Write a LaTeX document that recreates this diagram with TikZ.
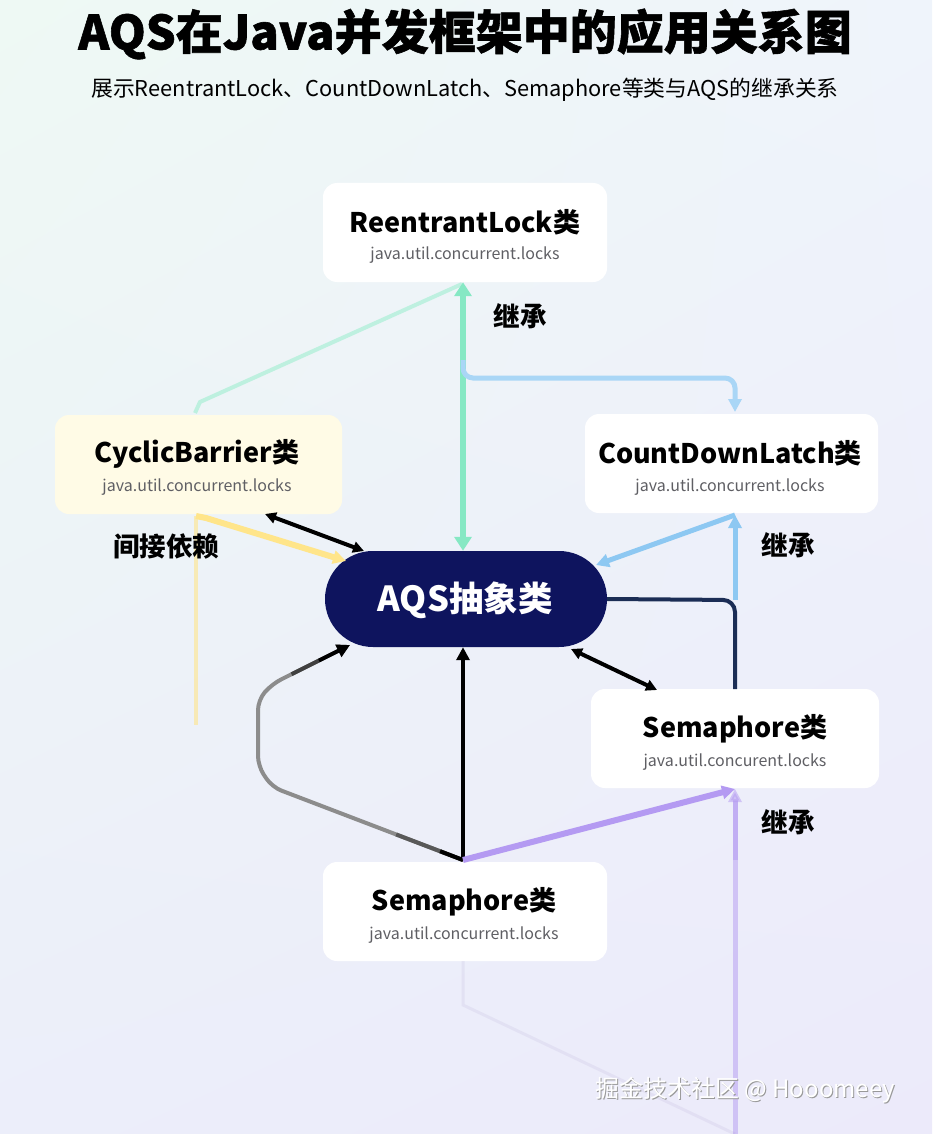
\documentclass[tikz,border=0pt]{standalone}
\usepackage{fontspec}
\setmainfont{Noto Sans CJK SC}
\newfontfamily\heavy{Noto Sans CJK SC}[BoldFeatures={FakeBold=1.2}]
\usetikzlibrary{arrows.meta,calc,shadings}
\definecolor{navy}{RGB}{14,20,94}
\definecolor{gline}{RGB}{134,232,196}
\definecolor{lblue}{RGB}{169,214,246}
\definecolor{bline}{RGB}{141,200,242}
\definecolor{yline}{RGB}{255,229,138}
\definecolor{pline}{RGB}{180,154,242}
\definecolor{cbfill}{RGB}{255,251,230}
\definecolor{subgray}{RGB}{95,95,100}
\definecolor{dline}{RGB}{27,45,85}
\definecolor{bgUL}{RGB}{238,249,244}
\definecolor{bgUR}{RGB}{239,244,251}
\definecolor{bgLL}{RGB}{236,238,250}
\definecolor{bgLR}{RGB}{236,234,250}
\begin{document}
\begin{tikzpicture}[x=1pt,y=-1pt,
  box/.style={draw=none,fill=white,rounded corners=14pt,minimum width=284pt,minimum height=99pt,inner sep=0pt},
  ttl/.style={font=\bfseries\fontsize{27}{30}\selectfont,text=black,inner sep=0pt},
  sub/.style={font=\fontsize{16}{19}\selectfont,text=subgray,inner sep=0pt},
  lbl/.style={font=\bfseries\fontsize{26.5}{30}\selectfont,text=black,inner sep=0pt},
  bigtip/.tip={Triangle[length=13pt,width=13pt]},
  smalltip/.tip={Triangle[length=11pt,width=11pt]},
  greentip/.tip={Triangle[length=14pt,width=17pt]}]
\shade[upper left=bgUL,upper right=bgUR,lower left=bgLL,lower right=bgLR] (0,0) rectangle (932,1134);
\useasboundingbox (0,0) rectangle (932,1134);
% title
\node[font=\heavy\bfseries\fontsize{47}{52}\selectfont,inner sep=0pt] (title) at (465,34) {AQS在Java并发框架中的应用关系图};
\node[font=\fontsize{21.8}{24}\selectfont,inner sep=0pt] (subtitle) at (465,90) {展示ReentrantLock、CountDownLatch、Semaphore等类与AQS的继承关系};
% boxes
\node[box] (rl) at (465,232.5) {};
\node[ttl] (rlT) at (465,222) {ReentrantLock类};
\node[sub] (rlS) at (465,255) {java.util.concurrent.locks};
\node[box,fill=cbfill,minimum width=287pt] (cb) at (198.5,464.5) {};
\node[ttl] (cbT) at (197,454) {CyclicBarrier类};
\node[sub] (cbS) at (197,487) {java.util.concurrent.locks};
\node[box,minimum width=293pt] (cdl) at (731.5,463.5) {};
\node[ttl] (cdlT) at (730,453) {CountDownLatch类};
\node[sub] (cdlS) at (730,487) {java.util.concurrent.locks};
\node[box,minimum width=288pt] (semR) at (735,738.5) {};
\node[ttl] (semRT) at (735,729) {Semaphore类};
\node[sub] (semRS) at (735,762) {java.util.concurent.locks};
\node[box] (semB) at (465,911.5) {};
\node[ttl] (semBT) at (464,902) {Semaphore类};
\node[sub] (semBS) at (464,935) {java.util.concurrent.locks};
\node[fill=navy,rounded corners=48pt,minimum width=282pt,minimum height=96pt,inner sep=0pt] (aqs) at (466,599) {};
\node[font=\bfseries\fontsize{34.5}{38}\selectfont,text=white,inner sep=0pt] (aqsT) at (465,600) {AQS抽象类};
% coordinates
\coordinate (g1) at (463,360);
\coordinate (cdlIn) at (735,412);
\coordinate (cdlOut) at (735,515);
\coordinate (aqsNE) at (596,565);
\coordinate (j735) at (735,600);
\coordinate (semRtop) at (735,689);
\coordinate (aqsSE) at (571,649);
\coordinate (semRnw) at (657,690);
\coordinate (cbOut) at (265,514);
\coordinate (aqsNW) at (364,551);
\coordinate (cbY) at (196,516);
\coordinate (aqsW) at (346,561);
\coordinate (yEnd) at (196,725);
\coordinate (semBtop) at (463,860);
\coordinate (aqsSW) at (350,645);
\coordinate (semRbot) at (735,789);
\coordinate (pBot) at (735,1134);
\coordinate (cbTop) at (195,413);
\coordinate (rlBot) at (462,284);
\coordinate (gk) at (272,684);
% connectors
\draw[gline!70,opacity=0.7,line width=4pt] (cbTop) -- (200,402) -- (rlBot);
\draw[gline,line width=6pt,{greentip}-{greentip}] ([xshift=-2pt]rl.south) -- ([xshift=-3pt]aqs.north);
\draw[lblue,line width=5pt,rounded corners=10pt,-{bigtip}] (g1) -- (463,378) -- (735,378) -- (cdlIn);
\draw[bline,line width=5pt,-{bigtip}] (cdlOut) -- (aqsNE);
\draw[dline,line width=4pt,rounded corners=12pt] (aqs.east) -- (j735) -- (semRtop);
\draw[bline,line width=5pt,-{bigtip}] (j735) -- (cdlOut);
\draw[black,line width=4pt,{smalltip}-{smalltip}] (semRnw) -- (aqsSE);
\draw[yline,opacity=0.6,line width=4pt] (cbY) -- (yEnd);
\draw[yline,line width=6pt,-{bigtip}] (cbY) -- (206,518) -- (aqsW);
\draw[black,line width=4pt,{smalltip}-{smalltip}] (cbOut) -- (aqsNW);
\draw[black!45,line width=4pt,rounded corners=10pt,-{bigtip}] (semBtop) -- (272,787) -- (258,766) -- (258,700) -- (gk) -- (aqsSW);
\draw[black!75,line width=4pt] ($(gk)!0.25!(aqsSW)$) -- ($(gk)!0.6!(aqsSW)$);
\draw[black,line width=4pt,-{bigtip}] ($(gk)!0.6!(aqsSW)$) -- (aqsSW);
\draw[black!65,line width=4pt] (semBtop) -- ($(semBtop)!0.35!(272,787)$);
\draw[black,line width=4pt] (semBtop) -- ($(semBtop)!0.12!(272,787)$);
\draw[black,line width=4pt,-{bigtip}] (semBtop) -- ([xshift=-3pt]aqs.south);
\draw[pline,opacity=0.5,line width=5pt] (pBot) -- (735,800);
\draw[pline,line width=6pt,-{bigtip}] (semBtop) -- (semRbot);
\draw[pline,opacity=0.5,line width=5pt,-{bigtip}] (735,860) -- (semRbot);
\draw[pline!60!gray,opacity=0.12,line width=3pt] ([xshift=-2pt]semB.south) -- (463,1005) -- (735,1134);
% labels
\node[lbl] (l1) at (520,316) {继承};
\node[lbl] (l2) at (788,545) {继承};
\node[lbl] (l3) at (788,822) {继承};
\node[lbl] (l4) at (166,546) {间接依赖};
% watermark
\node[font=\fontsize{24}{28}\selectfont,text=gray!80,inner sep=0pt] (wmS) at (746,1091) {掘金技术社区 @ Hooomeey};
\node[font=\fontsize{24}{28}\selectfont,text=white,inner sep=0pt] (wm) at (745,1090) {掘金技术社区 @ Hooomeey};
\end{tikzpicture}
\end{document}
